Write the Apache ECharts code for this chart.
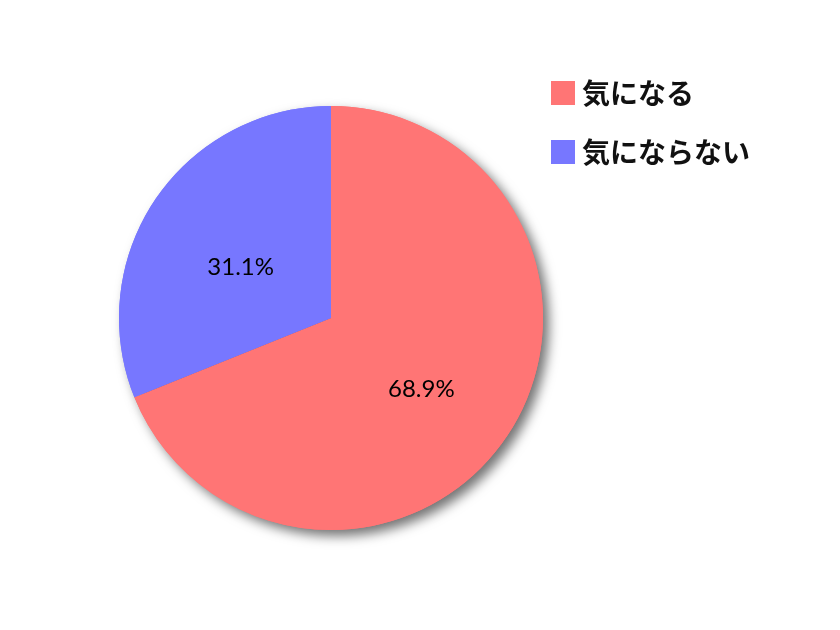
<!DOCTYPE html>
<html><head><meta charset="utf-8">
<script src="https://cdn.jsdelivr.net/npm/echarts@6/dist/echarts.min.js"></script>
<style>html,body{margin:0;padding:0;background:#fff}#c{width:840px;height:630px}</style>
</head><body><div id="c"></div>
<script>
const categories = ['気になる', '気にならない'];
const values = [68.9, 31.1];
const colors = ['#FF7575', '#7777FF'];

const pieData = categories.map((n, i) => ({ name: n, value: values[i], itemStyle: { color: colors[i] } }));

const chart = echarts.init(document.getElementById('c'));
chart.setOption({
  animation: false,
  backgroundColor: '#fff',
  legend: {
    data: categories,
    orient: 'vertical',
    left: 546, top: 74,
    itemWidth: 24, itemHeight: 24, itemGap: 31,
    icon: 'rect',
    textStyle: { fontSize: 28, fontFamily: 'Noto Sans CJK JP', fontWeight: 'bold', color: '#111', padding: [0,0,0,2] }
  },
  series: [{
    type: 'pie',
    z: 1,
    silent: true,
    center: [331, 318],
    radius: 212,
    startAngle: 90,
    clockwise: true,
    data: pieData,
    itemStyle: { shadowColor: 'rgba(0,0,0,0.55)', shadowBlur: 12, shadowOffsetX: 6, shadowOffsetY: 6 },
    label: { show: false },
    labelLine: { show: false },
    emphasis: { disabled: true }
  }, {
    type: 'pie',
    z: 2,
    center: [331, 318],
    radius: 212,
    startAngle: 90,
    clockwise: true,
    data: pieData,
    label: {
      position: 'inside',
      formatter: p => p.value.toFixed(1) + '%',
      fontSize: 24, color: '#000', fontFamily: 'Lato',
      offset: [0, 10]
    },
    labelLine: { show: false },
    emphasis: { disabled: true }
  }]
});
</script></body></html>
